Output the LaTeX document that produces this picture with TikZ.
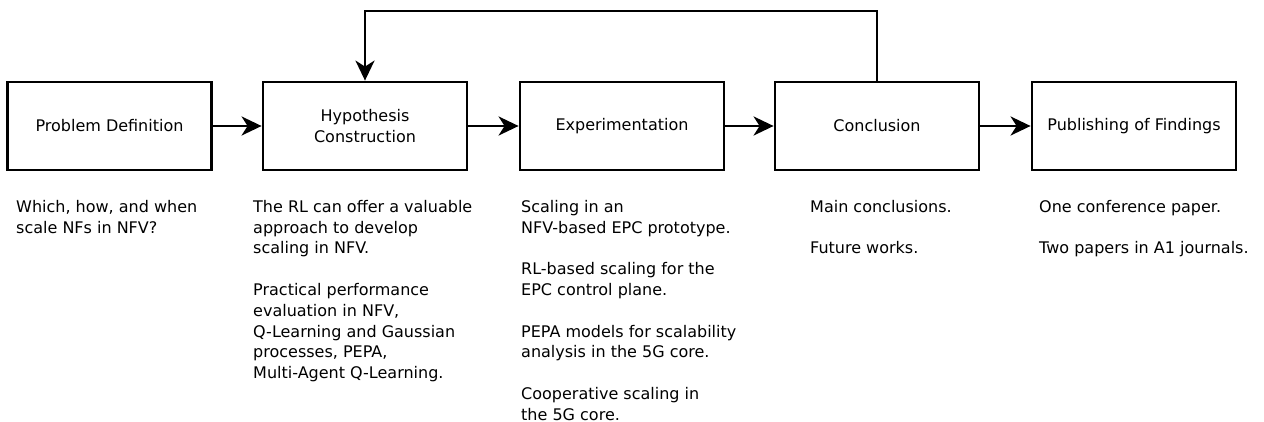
\documentclass[tikz,border=0pt]{standalone}
\usepackage{fontspec}
\setmainfont{DejaVu Sans}
\usetikzlibrary{arrows.meta}
\tikzset{
  stage/.style={draw=black, line width=2.8pt, minimum width=204pt, minimum height=88pt,
    inner sep=0pt, align=center, font=\fontsize{16}{21}\selectfont},
  note/.style={anchor=north west, inner sep=0pt, align=left,
    font=\fontsize{16}{20.8}\selectfont},
  flow/.style={line width=2.6pt, -{Stealth[length=20pt, width=19pt, inset=6pt]}},
}
\begin{document}
\begin{tikzpicture}[x=1pt, y=-1pt]
  \useasboundingbox (0,0) rectangle (1264,422);

  % process stages
  \node[stage] (prob) at (109.5,126) {Problem Definition};
  \node[stage] (hyp)  at (365,126)   {Hypothesis\\Construction};
  \node[stage] (exp)  at (622,126)   {Experimentation};
  \node[stage] (conc) at (877,126)   {Conclusion};
  \node[stage] (pub)  at (1134,126)  {Publishing of Findings};

  % forward flow
  \draw[flow] (prob) -- (hyp);
  \draw[flow] (hyp)  -- (exp);
  \draw[flow] (exp)  -- (conc);
  \draw[flow] (conc) -- (pub);

  % feedback loop from the conclusion back to the hypothesis
  \coordinate (loopR) at (877,11);
  \coordinate (loopL) at (365,11);
  \draw[flow] (conc.north) -- (loopR) -- (loopL) -- (hyp.north);

  % notes under each stage
  \node[note] (nprob) at (16,200) {Which, how, and when\\scale NFs in NFV?};
  \node[note] (nhyp) at (253,200) {The RL can offer a valuable\\approach to develop\\scaling in NFV.\\[20.8pt]
    Practical performance\\evaluation in NFV,\\Q-Learning and Gaussian\\processes, PEPA,\\Multi-Agent Q-Learning.};
  \node[note] (nexp) at (521,200) {Scaling in an\\NFV-based EPC prototype.\\[20.8pt]
    RL-based scaling for the\\EPC control plane.\\[20.8pt]
    PEPA models for scalability\\analysis in the 5G core.\\[20.8pt]
    Cooperative scaling in\\the 5G core.};
  \node[note] (nconc) at (810,200) {Main conclusions.\\[20.8pt]Future works.};
  \node[note] (npub) at (1039,200) {One conference paper.\\[20.8pt]Two papers in A1 journals.};
\end{tikzpicture}
\end{document}
